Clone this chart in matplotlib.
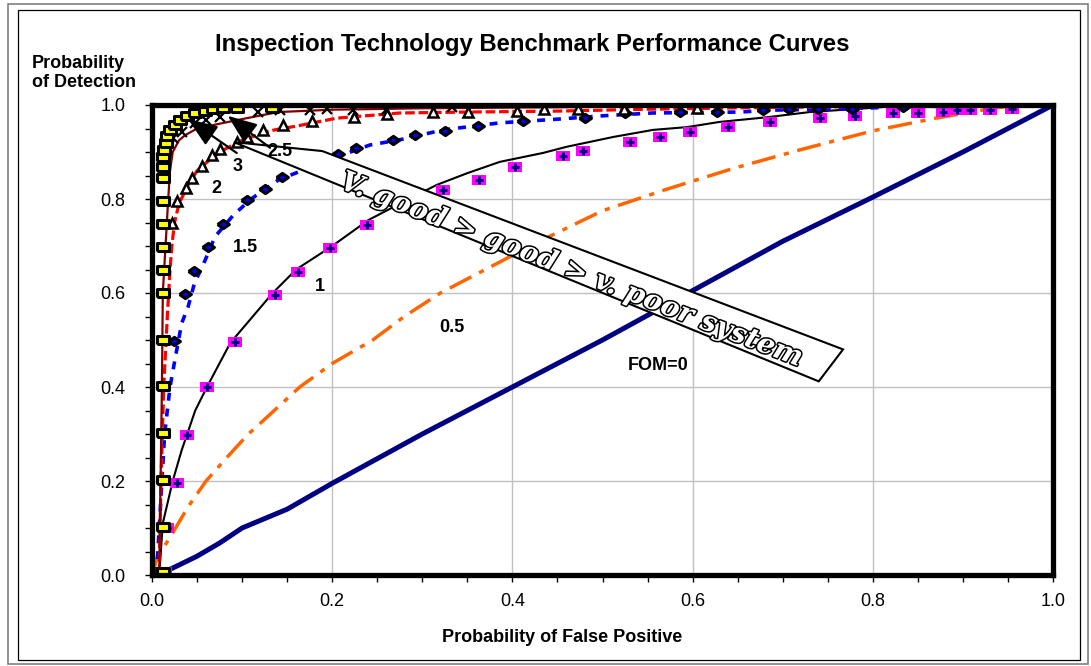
import matplotlib
matplotlib.use('Agg')
import matplotlib.pyplot as plt
from matplotlib.patches import Polygon, Rectangle
import matplotlib.patheffects as pe
from matplotlib.ticker import MultipleLocator, FormatStrFormatter

plt.rcParams['font.family'] = ['Liberation Sans', 'DejaVu Sans']

title = "Inspection Technology Benchmark Performance Curves"
xlabel = "Probability of False Positive"
ylabel = "Probability\nof Detection"
arrow_text = "V. good > good > v. poor system"

# FOM = 0 (navy diagonal)
fom0_x = [0.0, 0.02, 0.05, 0.075, 0.10, 0.15, 0.20, 0.30, 0.40, 0.50, 0.60, 0.70, 0.80, 0.90, 0.95, 1.0]
fom0_y = [0.0, 0.012, 0.04, 0.068, 0.10, 0.14, 0.195, 0.30, 0.40, 0.50, 0.605, 0.71, 0.804, 0.90, 0.95, 1.0]

# FOM = 0.5 (orange dash-dot)
fom05_x = [0.0, 0.006, 0.02, 0.04, 0.06, 0.083, 0.107, 0.13, 0.164, 0.20, 0.245, 0.28, 0.32, 0.37,
           0.43, 0.50, 0.57, 0.645, 0.72, 0.80, 0.87, 0.94, 1.0]
fom05_y = [0.0, 0.038, 0.08, 0.145, 0.20, 0.25, 0.30, 0.34, 0.40, 0.45, 0.50, 0.55, 0.60, 0.65,
           0.71, 0.775, 0.82, 0.865, 0.905, 0.945, 0.972, 0.995, 1.0]

# FOM = 1 (black line + magenta markers)
fom1_x = [0.008, 0.012, 0.023, 0.033, 0.048, 0.061, 0.087, 0.134, 0.16, 0.20, 0.24, 0.28, 0.316, 0.35,
          0.386, 0.434, 0.46, 0.512, 0.556, 0.594, 0.63, 0.683, 0.73, 0.80, 0.84, 1.0]
fom1_y = [0.0, 0.11, 0.20, 0.266, 0.35, 0.40, 0.494, 0.60, 0.65, 0.70, 0.755, 0.795, 0.83, 0.855,
          0.879, 0.898, 0.911, 0.932, 0.947, 0.953, 0.964, 0.974, 0.985, 0.994, 1.0, 1.0]
fom1_pts_x = [0.014, 0.017, 0.028, 0.039, 0.061, 0.092, 0.137, 0.162, 0.198, 0.239, 0.323, 0.363, 0.403,
              0.456, 0.478, 0.53, 0.564, 0.597, 0.639, 0.686, 0.741, 0.78, 0.822, 0.85, 0.878, 0.893,
              0.908, 0.93, 0.954]
fom1_pts_y = [0.006, 0.10, 0.196, 0.298, 0.40, 0.496, 0.596, 0.645, 0.696, 0.745, 0.819, 0.840, 0.868,
              0.891, 0.902, 0.921, 0.932, 0.943, 0.953, 0.964, 0.972, 0.977, 0.983, 0.983, 0.985, 0.989,
              0.989, 0.989, 0.991]

# FOM = 1.5 (blue dashed + diamonds)
fom15_x = [0.005, 0.008, 0.011, 0.014, 0.02, 0.026, 0.033, 0.04, 0.047, 0.059, 0.07, 0.09, 0.11, 0.14,
           0.19, 0.242, 0.275, 0.323, 0.386, 0.451, 0.50, 0.556, 0.653, 0.684, 0.752, 0.834, 0.90, 1.0]
fom15_y = [0.0, 0.10, 0.20, 0.30, 0.40, 0.464, 0.536, 0.57, 0.62, 0.67, 0.72, 0.765, 0.80, 0.84,
           0.879, 0.915, 0.926, 0.947, 0.962, 0.97, 0.977, 0.983, 0.985, 0.989, 0.991, 0.996, 0.998, 1.0]
fom15_pts_x = [0.024, 0.037, 0.047, 0.062, 0.079, 0.105, 0.125, 0.144, 0.206, 0.226, 0.267, 0.292, 0.325,
               0.362, 0.412, 0.481, 0.525, 0.586, 0.627, 0.678, 0.707, 0.739, 0.777, 0.834]
fom15_pts_y = [0.498, 0.598, 0.647, 0.698, 0.747, 0.798, 0.821, 0.847, 0.896, 0.908, 0.926, 0.936, 0.945,
               0.955, 0.966, 0.972, 0.983, 0.985, 0.985, 0.989, 0.991, 0.991, 0.991, 0.996]

# FOM = 2 (red dotted + triangles)
fom2_x = [0.008, 0.01, 0.013, 0.017, 0.02, 0.022, 0.025, 0.03, 0.04, 0.05, 0.065, 0.08, 0.10, 0.13,
          0.16, 0.205, 0.275, 0.35, 0.45, 0.55, 0.65, 0.75, 0.85, 1.0]
fom2_y = [0.0, 0.20, 0.40, 0.55, 0.65, 0.70, 0.75, 0.79, 0.83, 0.86, 0.885, 0.905, 0.925, 0.945,
          0.955, 0.972, 0.983, 0.985, 0.987, 0.991, 0.994, 0.996, 0.998, 1.0]
fom2_pts_x = [0.022, 0.028, 0.038, 0.044, 0.055, 0.067, 0.075, 0.094, 0.105, 0.123, 0.145, 0.178, 0.224,
              0.261, 0.312, 0.351, 0.405, 0.435, 0.473, 0.524, 0.605]
fom2_pts_y = [0.75, 0.796, 0.823, 0.845, 0.870, 0.894, 0.906, 0.921, 0.932, 0.947, 0.957, 0.966, 0.974,
              0.981, 0.985, 0.985, 0.987, 0.991, 0.991, 0.991, 0.994]

# FOM = 2.5 (dark red solid + x markers)
fom25_x = [0.008, 0.011, 0.012, 0.015, 0.018, 0.02, 0.023, 0.03, 0.037, 0.05, 0.067, 0.10, 0.14,
           0.20, 0.30, 0.50, 0.70, 1.0]
fom25_y = [0.0, 0.40, 0.60, 0.70, 0.80, 0.86, 0.90, 0.925, 0.936, 0.95, 0.957, 0.97, 0.985,
           0.99, 0.993, 0.996, 0.998, 1.0]
fom25_pts_x = [0.023, 0.033, 0.048, 0.06, 0.075, 0.118, 0.142, 0.175, 0.194, 0.223, 0.26, 0.333]
fom25_pts_y = [0.93, 0.943, 0.962, 0.968, 0.974, 0.985, 0.989, 0.989, 0.991, 0.989, 0.989, 0.996]

# FOM = 3 (yellow squares)
fom3_pts_x = [0.012, 0.012, 0.012, 0.012, 0.012, 0.012, 0.012, 0.012, 0.012, 0.012, 0.012, 0.012,
              0.012, 0.012, 0.013, 0.015, 0.017, 0.02, 0.026, 0.031, 0.039, 0.048, 0.059, 0.068,
              0.079, 0.094, 0.133]
fom3_pts_y = [0.006, 0.102, 0.202, 0.302, 0.402, 0.50, 0.60, 0.649, 0.698, 0.747, 0.796, 0.845, 0.868,
              0.89, 0.905, 0.92, 0.935, 0.947, 0.957, 0.968, 0.976, 0.983, 0.987, 0.991, 0.994, 0.994,
              0.994]

curve_labels = ["3", "2.5", "2", "1.5", "1", "0.5", "FOM=0"]
label_x = [0.095, 0.142, 0.072, 0.104, 0.186, 0.333, 0.562]
label_y = [0.870, 0.902, 0.823, 0.696, 0.613, 0.526, 0.445]

W, H = 1091, 666
fig = plt.figure(figsize=(W / 100, H / 100), dpi=100)
fig.patch.set_facecolor('white')
ax = fig.add_axes([152 / W, 91 / H, 901 / W, 470 / H])

# figure frames
fig.patches.append(Rectangle((8 / W, 2 / H), 1080 / W, 660 / H, transform=fig.transFigure,
                             fill=False, edgecolor='#808080', lw=1.2))
fig.patches.append(Rectangle((18 / W, 6 / H), 1062 / W, 650 / H, transform=fig.transFigure,
                             fill=False, edgecolor='black', lw=0.9))

rect_m = [(-1, -0.7), (1, -0.7), (1, 0.7), (-1, 0.7), (-1, -0.7)]
diam_m = [(-1, 0), (0, 0.7), (1, 0), (0, -0.7), (-1, 0)]

ax.plot(fom0_x, fom0_y, color='#000080', lw=3.6, zorder=2, solid_capstyle='round')
ax.plot(fom05_x, fom05_y, color='#ff6600', lw=2.5, ls=(0, (7, 2.5, 1.5, 2.5)), zorder=2)
ax.plot(fom1_x, fom1_y, color='black', lw=1.5, zorder=2)
ax.plot(fom15_x, fom15_y, color='#0000ff', lw=2.6, ls=(0, (2.2, 2.2)), zorder=2)
ax.plot(fom2_x, fom2_y, color='#ff0000', lw=2.3, ls=(0, (3, 1.2)), zorder=2)
ax.plot(fom25_x, fom25_y, color='#800000', lw=1.6, zorder=2)

ax.plot(fom1_pts_x, fom1_pts_y, ls='none', marker=rect_m, ms=10.5, mfc='#ff00ff', mec='#ff00ff',
        mew=0, zorder=3)
ax.plot(fom1_pts_x, fom1_pts_y, ls='none', marker='+', ms=5.5, mew=2, color='#000080', zorder=3.1)
ax.plot(fom15_pts_x, fom15_pts_y, ls='none', marker=diam_m, ms=8.5, mfc='#0000ff', mec='black',
        mew=2.2, zorder=3)
ax.plot(fom2_pts_x, fom2_pts_y, ls='none', marker='^', ms=7, mfc='white', mec='black',
        mew=1.8, zorder=3)
ax.plot(fom25_pts_x, fom25_pts_y, ls='none', marker='x', ms=7, mew=1.6, color='black', zorder=3)
ax.plot(fom3_pts_x, fom3_pts_y, ls='none', marker=rect_m, ms=9, mfc='#ffff00', mec='black',
        mew=2.2, zorder=4, clip_on=False)

# wedge-shaped annotation box
wedge = Polygon([(0.091, 0.921), (0.189, 0.902), (0.767, 0.480), (0.740, 0.412)], closed=True,
                facecolor='white', edgecolor='black', lw=1.5, zorder=5)
ax.add_patch(wedge)
ax.text(0.466, 0.655, arrow_text, rotation=-21.2, rotation_mode='anchor', ha='center',
        va='center_baseline', fontsize=20, fontfamily='DejaVu Serif', fontweight='bold',
        fontstyle='italic', color='white',
        path_effects=[pe.withStroke(linewidth=2.2, foreground='black')], zorder=6)

# arrows from labels 3 and 2.5
arrow_kw = dict(arrowstyle='-|>,head_length=0.9,head_width=0.35', color='black', lw=1.6,
                mutation_scale=20, shrinkA=0, shrinkB=0)
ax.annotate('', xy=(0.040, 0.970), xytext=(0.094, 0.898), arrowprops=arrow_kw, zorder=7)
ax.annotate('', xy=(0.084, 0.977), xytext=(0.131, 0.909), arrowprops=arrow_kw, zorder=7)

for t, lx, ly in zip(curve_labels, label_x, label_y):
    ax.text(lx, ly, t, fontsize=13, fontweight='bold', ha='center', va='center', zorder=8)

ax.set_xlim(0, 1)
ax.set_ylim(0, 1)
ax.xaxis.set_major_locator(MultipleLocator(0.2))
ax.yaxis.set_major_locator(MultipleLocator(0.2))
ax.xaxis.set_minor_locator(MultipleLocator(0.05))
ax.yaxis.set_minor_locator(MultipleLocator(0.05))
ax.xaxis.set_major_formatter(FormatStrFormatter('%.1f'))
ax.yaxis.set_major_formatter(FormatStrFormatter('%.1f'))
ax.tick_params(which='both', direction='out', length=5, width=1, color='black')
ax.tick_params(axis='y', which='major', pad=14, labelsize=13)
ax.tick_params(axis='x', which='major', pad=8, labelsize=13)
ax.grid(True, which='major', color='#c0c0c0', lw=1)
ax.set_axisbelow(True)
for s in ax.spines.values():
    s.set_linewidth(3.8)
    s.set_color('black')
    s.set_zorder(9)

fig.text(532 / W, 1 - 45 / H, title, fontsize=17.2, fontweight='bold', ha='center', va='center')
fig.text(32 / W, 1 - 73 / H, ylabel, fontsize=13, fontweight='bold', ha='left', va='center',
         linespacing=1.15)
fig.text(562 / W, 1 - 638 / H, xlabel, fontsize=13, fontweight='bold', ha='center', va='center')

fig.savefig('out.png', dpi=100)
